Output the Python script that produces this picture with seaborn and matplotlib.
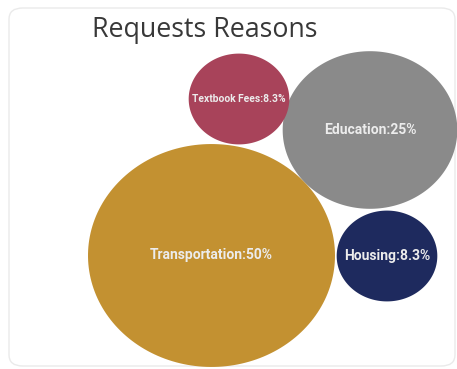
import matplotlib
matplotlib.use("Agg")
import matplotlib.pyplot as plt
from matplotlib.path import Path
from matplotlib.patches import FancyBboxPatch
import numpy as np
import pandas as pd
import seaborn as sns

# ---- data ----
categories = ["Transportation", "Education", "Textbook Fees", "Housing"]
values = [50, 25, 8.3, 8.3]
labels = ["Transportation:50%", "Education:25%", "Textbook Fees:8.3%", "Housing:8.3%"]
colors = ["#C39131", "#8A8A8A", "#A8435A", "#1E2A5E"]

# ---- layout (pixel positions of bubble centres) ----
centers_x = [211.5, 370, 239, 387]
centers_y = [255.5, 130, 99, 256]
label_sizes = [10, 10, 7.4, 10]

W, H, DPI = 457, 369, 100
sns.set_theme(style="white")
plt.rcParams["font.family"] = ["DejaVu Sans"]

fig = plt.figure(figsize=(W / DPI, H / DPI), dpi=DPI)
ax = fig.add_axes([0, 0, 1, 1])
ax.set_zorder(2)
ax.patch.set_visible(False)

# card
card = FancyBboxPatch((9 / W, 1 - 366 / H), 446 / W, 358 / H,
                      boxstyle="round,pad=0,rounding_size=0.03",
                      transform=fig.transFigure, facecolor="white",
                      edgecolor="#EAEAEA", linewidth=1.0, zorder=0)
fig.patches.append(card)

# ellipse marker (stretched horizontally)
t = np.linspace(0, 2 * np.pi, 200)
verts = np.column_stack([1.108 * np.cos(t), np.sin(t)])
ell = Path(verts, closed=True)

df = pd.DataFrame({"category": categories, "value": values,
                   "x": centers_x, "y": centers_y})

max_width_px = 247
max_s = (max_width_px * 72 / DPI) ** 2
sns.scatterplot(data=df, x="x", y="y", hue="category", palette=colors,
                size="value", sizes=(0, max_s), size_norm=(0, 50),
                marker=ell, linewidth=0, alpha=1, legend=False, ax=ax, zorder=2)
ax.set_xlim(0, W)
ax.set_ylim(H, 0)
ax.axis("off")

for xi, yi, lab, fs in zip(centers_x, centers_y, labels, label_sizes):
    ax.text(xi, yi, lab, ha="center", va="center", color="#ECECEC",
            fontsize=fs, fontweight="bold",
            family=["Liberation Sans Narrow", "Roboto", "DejaVu Sans"], zorder=3)

ax.text(92, 30, "Requests Reasons", ha="left", va="center",
        fontsize=19.3, color="#383838", family=["Open Sans", "DejaVu Sans"])

fig.savefig("out.png", dpi=DPI)
